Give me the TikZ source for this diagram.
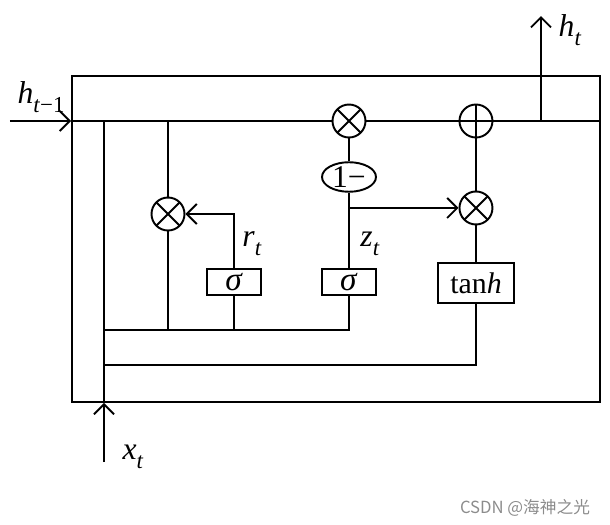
\documentclass[tikz,border=0pt]{standalone}
\usepackage{fontspec}
\setmainfont{Liberation Serif}
\newfontfamily\cjk{Noto Sans CJK SC}
\usetikzlibrary{arrows.meta}
\usetikzlibrary{positioning}
\usetikzlibrary{shapes.geometric}

\newcommand{\sublbl}[2]{\textit{#1}\raisebox{-0.6ex}{\fontsize{13}{15}\selectfont #2}}

\begin{document}
\begin{tikzpicture}[x = 0.02cm, y = -0.02cm, line width = 1.1pt, on grid, font = \fontsize{16}{19}\selectfont,
	mul/.style = {circle, draw, minimum size = 6.6mm, inner sep = 0pt, path picture = {\draw (path picture bounding box.north west) -- (path picture bounding box.south east) (path picture bounding box.south west) -- (path picture bounding box.north east);}},
	add/.style = {circle, draw, minimum size = 6.6mm, inner sep = 0pt, path picture = {\draw (path picture bounding box.north) -- (path picture bounding box.south) (path picture bounding box.west) -- (path picture bounding box.east);}},
	gate/.style = {rectangle, draw, minimum width = 10.8mm, minimum height = 5.2mm, inner sep = 0pt, font = \fontsize{19}{21}\selectfont},
	lbl/.style = {font = \fontsize{18}{21}\selectfont},
	arr/.style = {-{Straight Barb[length = 2mm, width = 4mm]}}]
	\useasboundingbox (0,0) rectangle (610,525);
	\node[draw, minimum width = 10.56cm, minimum height = 6.52cm] (cell) at (336,239) {};
	\node[mul] (Mz) at (349,121) {};
	\node[add] (Ad) [right = 2.54cm of Mz] {};
	\node[mul] (Mh) [below = 1.74cm of Ad] {};
	\node[ellipse, draw, minimum width = 10.8mm, minimum height = 5.2mm, inner sep = 0pt, font = \fontsize{18}{20}\selectfont] (O) [below = 1.12cm of Mz] {1−};
	\node[gate] (Sz) [below = 3.22cm of Mz] {\textit{σ}};
	\node[gate] (Sr) [left = 2.3cm of Sz] {\textit{σ}};
	\node[gate, minimum width = 15.2mm, minimum height = 8mm, font = \fontsize{17}{20}\selectfont] (T) [below = 1.5cm of Mh] {tan\textit{h}};
	\node[mul] (Mr) at (168,214) {};
	\coordinate (hin) at (10,121);
	\coordinate (xin) at (104,462);
	\coordinate (hout) at (541,16);
	\coordinate (b1) at (104,330);
	\coordinate (b2) at (104,365);
	\node[lbl] (hprev) at (41,97) {\sublbl{h}{\textit{t}−1}};
	\node[lbl] (hnext) at (570,30) {\sublbl{h}{\textit{t}}};
	\node[lbl] (xlbl) at (133,457) {\sublbl{x}{\textit{t}}};
	\node[lbl] (rlbl) at (252,244) {\sublbl{r}{\textit{t}}};
	\node[lbl] (zlbl) at (370,244) {\sublbl{z}{\textit{t}}};
	\draw[arr] (hin) -- (cell.west |- Mz);
	\draw (cell.west |- Mz) -- (Mz);
	\draw (Mz) -- (Ad);
	\draw (Ad) -- (cell.east |- Mz);
	\draw[arr] (hout |- Mz) -- (hout);
	\draw[arr] (xin) -- (xin |- cell.south);
	\draw (xin |- cell.south) -- (xin |- Mz);
	\draw (Mr |- Mz) -- (Mr);
	\draw (Mr) -- (Mr |- b1);
	\draw (b1) -| (Sz);
	\draw (Sr) -- (Sr |- b1);
	\draw[arr] (Sr) |- (Mr);
	\draw (Sz) -- (O);
	\draw (O) -- (Mz);
	\draw[arr] (O |- Mh) -- (Mh);
	\draw (Mh) -- (Ad);
	\draw (T) -- (Mh);
	\draw (b2) -| (T);
	\node[text = black!45, font = \cjk\fontsize{9.5}{11}\selectfont] (mark) at (525,508) {CSDN @海神之光};
\end{tikzpicture}
\end{document}
